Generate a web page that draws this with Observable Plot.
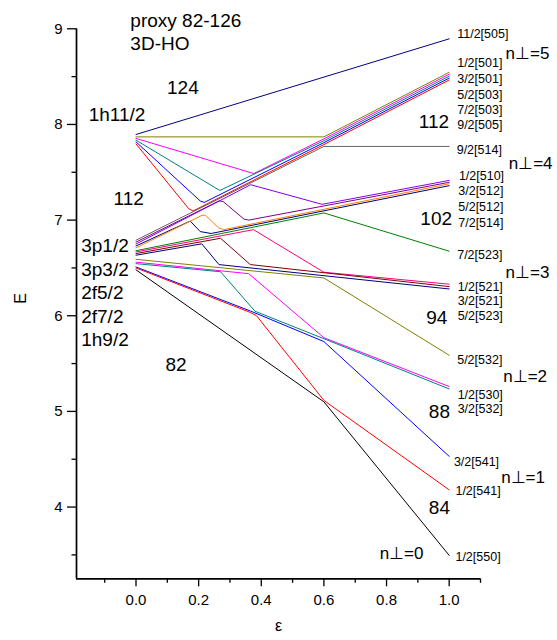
<!DOCTYPE html>
<html><head><meta charset="utf-8">
<script src="https://cdn.jsdelivr.net/npm/d3@7"></script>
<script src="https://cdn.jsdelivr.net/npm/@observablehq/plot@0.6"></script>
<style>body{margin:0;background:#fff} #chart svg{display:block}</style>
</head><body><div id="chart"></div>
<script>
// ---- level lines: [epsilon, E] vertices ----
const l_1152_505 = [[0,7.895],[1,8.895]];
const l_92_505  = [[0,7.87],[0.6,7.87],[1,8.545]];
const l_72_503  = [[0,7.854],[0.376,7.487],[0.6,7.85],[1,8.525]];
const l_52_503  = [[0,7.836],[0.252,7.34],[0.268,7.31],[0.6,7.83],[1,8.505]];
const l_32_501  = [[0,7.818],[0.205,7.2],[0.218,7.185],[0.6,7.81],[1,8.485]];
const l_12_501  = [[0,7.797],[0.168,7.12],[0.182,7.095],[0.6,7.79],[1,8.465]];
const l_92_514  = [[0,6.79],[0.6,7.77],[1,7.77]];
const l_12_510  = [[0,6.73],[0.173,6.99],[0.205,6.88],[0.24,6.86],[1,7.36]];
const l_32_512  = [[0,6.71],[0.211,7.05],[0.222,7.05],[0.264,6.918],[0.28,6.9],[1,7.38]];
const l_52_512  = [[0,6.77],[0.265,7.2],[0.278,7.195],[0.345,7.01],[0.36,7.0],[1,7.395]];
const l_72_514  = [[0,6.75],[0.366,7.37],[0.594,7.165],[1,7.415]];
const l_72_523  = [[0,6.68],[0.6,7.075],[1,6.675]];
const l_12_521  = [[0,6.667],[0.375,6.9],[0.6,6.455],[1,6.33]];
const l_32_521  = [[0,6.65],[0.27,6.81],[0.365,6.535],[1,6.305]];
const l_52_523  = [[0,6.633],[0.21,6.752],[0.265,6.535],[1,6.28]];
const l_52_532  = [[0,6.59],[0.6,6.395],[1,5.587]];
const l_12_530  = [[0,6.56],[0.36,6.44],[0.6,5.77],[1,5.26]];
const l_32_532  = [[0,6.545],[0.27,6.46],[0.38,6.047],[0.6,5.76],[1,5.235]];
const l_32_541  = [[0,6.51],[0.365,6.05],[0.6,5.73],[1,4.53]];
const l_12_541  = [[0,6.5],[0.365,6.035],[0.385,6.0],[0.6,5.115],[1,4.18]];
const l_12_550  = [[0,6.48],[0.6,5.1],[1,3.495]];

const levelLines = [l_1152_505,l_92_505,l_72_503,l_52_503,l_32_501,l_12_501,l_92_514,l_12_510,l_32_512,l_52_512,l_72_514,l_72_523,l_12_521,l_32_521,l_52_523,l_52_532,l_12_530,l_32_532,l_32_541,l_12_541,l_12_550];
const levelColors = ["#000080","#808000","#ff00ff","#008080","#0000ff","#ff0000","#666666","#000080","#ff8000","#800080","#8000ff","#008000","#ff0080","#800000","#000080","#808000","#ff00ff","#008080","#0000ff","#ff0000","#000000"];

// ---- tick values ----
const xMajor = [0,0.2,0.4,0.6,0.8,1.0];
const xMinor = [-0.1,0.1,0.3,0.5,0.7,0.9,1.1];
const yMajor = [4,5,6,7,8,9];
const yMinor = [3.5,4.5,5.5,6.5,7.5,8.5];
const xDomain = [-0.19,1.1];
const yDomain = [3.25,9];

// ---- annotations ----
const bigText = ["proxy 82-126","3D-HO","124","1h11/2","112","3p1/2","3p3/2","2f5/2","2f7/2","1h9/2","82","112","102","94","88","84"];
const bigEps  = [-0.018,-0.018,0.099,-0.151,-0.0716,-0.175,-0.175,-0.175,-0.175,-0.175,0.094,0.903,0.908,0.9265,0.935,0.935];
const bigE    = [9.08,8.84,8.383,8.097,7.226,6.732,6.478,6.239,5.986,5.744,5.49,8.03,7.015,5.977,4.993,3.994];

const shellText = ["n\u22A5=5","n\u22A5=4","n\u22A5=3","n\u22A5=2","n\u22A5=1","n\u22A5=0"];
const shellEps  = [1.18,1.19,1.18,1.1725,1.166,0.778];
const shellE    = [8.744,7.59,6.448,5.367,4.313,3.516];

const orbText = ["11/2[505]","1/2[501]","3/2[501]","5/2[503]","7/2[503]","9/2[505]","9/2[514]","1/2[510]","3/2[512]","5/2[512]","7/2[514]","7/2[523]","1/2[521]","3/2[521]","5/2[523]","5/2[532]","1/2[530]","3/2[532]","3/2[541]","1/2[541]","1/2[550]"];
const orbEps  = [1.0256,1.0256,1.0256,1.0256,1.0256,1.0256,1.024,1.031,1.029,1.029,1.029,1.0256,1.027,1.027,1.027,1.0256,1.027,1.027,1.015,1.02,1.02];
const orbE    = [8.941,8.638,8.477,8.31,8.153,7.995,7.738,7.462,7.305,7.142,6.97,6.63,6.305,6.152,5.998,5.538,5.176,5.022,4.473,4.17,3.48];

// build table for the line mark
const rows = [];
levelLines.forEach((pts, i) => pts.forEach(([e, E]) => rows.push({id: i, eps: e, E: E, color: levelColors[i]})));

const font = "'Liberation Sans', Arial, Helvetica, sans-serif";

const chart = Plot.plot({
  width: 557,
  height: 640,
  marginLeft: 76,
  marginRight: 77,
  marginTop: 28.3,
  marginBottom: 61.7,
  style: {fontFamily: font, fontSize: "15px", background: "#fff", color: "#000"},
  x: {domain: xDomain, axis: null},
  y: {domain: yDomain, axis: null},
  color: {type: "identity"},
  marks: [
    Plot.line(rows, {x: "eps", y: "E", z: "id", stroke: "color", strokeWidth: 1, strokeLinejoin: "round"}),
    Plot.ruleX([xDomain[0]], {stroke: "#000", strokeWidth: 1.7}),
    Plot.ruleY([yDomain[0]], {stroke: "#000", strokeWidth: 1.7}),
    Plot.axisY(yMajor, {anchor: "left", tickSize: 9, tickPadding: 5, tickFormat: d3.format("d"), strokeWidth: 1.3, label: null, fontSize: 15}),
    Plot.axisY(yMinor, {anchor: "left", tickSize: 4.5, tickFormat: () => "", strokeWidth: 1.3, label: null}),
    Plot.axisX(xMajor, {anchor: "bottom", tickSize: 8, tickPadding: 8, tickFormat: d3.format(".1f"), strokeWidth: 1.3, label: null, fontSize: 15}),
    Plot.axisX(xMinor, {anchor: "bottom", tickSize: 4.5, tickFormat: () => "", strokeWidth: 1.3, label: null}),
    Plot.text(bigText, {x: (d, i) => bigEps[i], y: (d, i) => bigE[i], text: d => d, textAnchor: "start", fontSize: 19, fill: "#000"}),
    Plot.text(shellText, {x: (d, i) => shellEps[i], y: (d, i) => shellE[i], text: d => d, textAnchor: "start", fontSize: 17, fill: "#000"}),
    Plot.text(orbText, {x: (d, i) => orbEps[i], y: (d, i) => orbE[i], text: d => d, textAnchor: "start", fontSize: 12.5, fill: "#000"}),
    Plot.text(["E"], {frameAnchor: "left", dx: -56, rotate: -90, fontSize: 16, fill: "#000"}),
    Plot.text(["\u03B5"], {frameAnchor: "bottom", dy: 52, fontSize: 16, fill: "#000"})
  ]
});
document.getElementById("chart").appendChild(chart);
</script>
</body></html>
